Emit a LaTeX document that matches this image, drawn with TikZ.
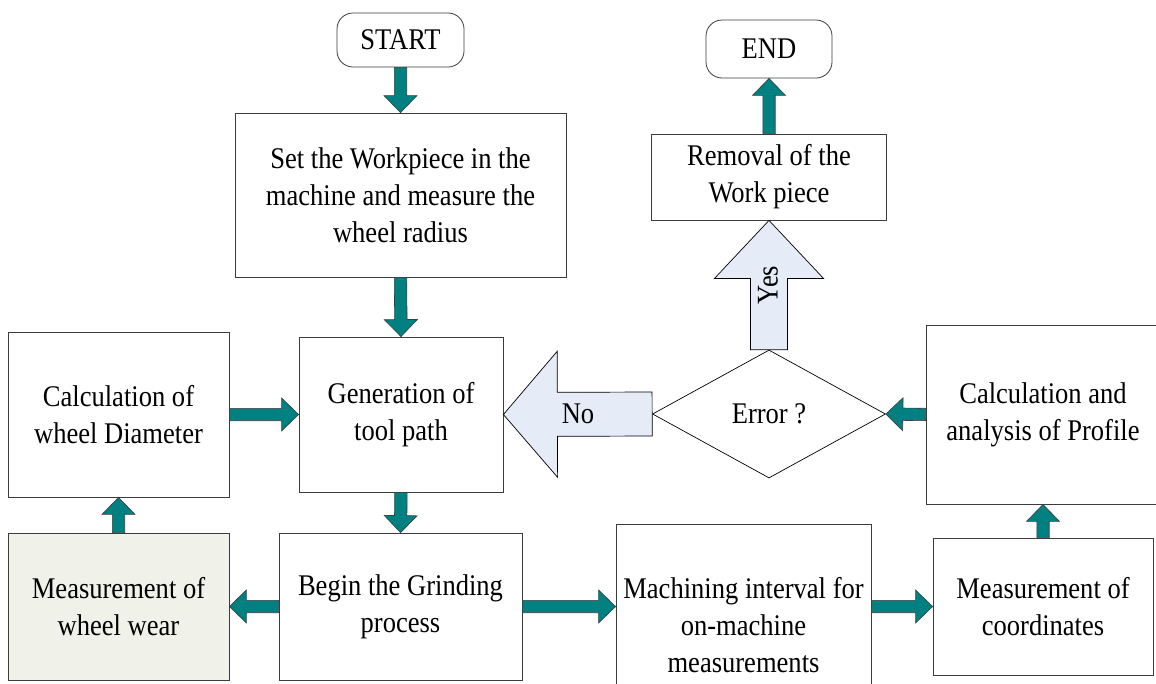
\documentclass[tikz,border=0pt]{standalone}
\usepackage{fontspec}
\setmainfont{Liberation Serif}[FakeStretch=0.885]
\usetikzlibrary{shapes.geometric,calc}
\definecolor{tealfill}{RGB}{0,128,128}
\definecolor{edgegray}{RGB}{60,60,60}
\definecolor{wearfill}{RGB}{240,241,233}
\definecolor{bluefill}{RGB}{229,235,247}
\newcommand\blk[6]{%
  \coordinate (blkC) at ($(#3)!#6!(#2)$);
  \draw[#1] ($(#2)!#4!90:(#3)$) -- ($(blkC)!#4!90:(#3)$) -- ($(blkC)!#5!90:(#3)$)
    -- (#3) -- ($(blkC)!#5!-90:(#3)$) -- ($(blkC)!#4!-90:(#3)$) -- ($(#2)!#4!-90:(#3)$) -- cycle;}
\newcommand\tarrow[2]{\blk{tealarr}{#1}{#2}{6.2pt}{16.5pt}{17pt}}
\begin{document}
\begin{tikzpicture}[x=1pt,y=-1pt,
  every node/.style={font=\fontsize{30}{37}\selectfont, align=center, inner sep=0pt},
  box/.style={draw=edgegray, line width=0.8pt, fill=white, rectangle},
  term/.style={box, rounded corners=16pt},
  tealarr/.style={fill=tealfill, draw=edgegray, line width=0.6pt, line join=miter},
  bluearr/.style={fill=bluefill, draw=black, line width=0.7pt, line join=miter}]
\useasboundingbox (0,0) rectangle (1156,683);
\clip (0,0) rectangle (1156,683);
% nodes
\node[term, minimum width=127pt, minimum height=54pt] (start) at (400.5,40) {START};
\node[term, minimum width=126pt, minimum height=58pt] (end) at (769,49) {END};
\node[box, minimum width=331pt, minimum height=164pt] (set) at (400.5,195) {Set the Workpiece in the\\machine and measure the\\wheel radius};
\node[box, minimum width=204pt, minimum height=155pt] (gen) at (401,414.5) {Generation of\\tool path};
\node[box, minimum width=221pt, minimum height=165pt] (calcd) at (118.5,414.5) {Calculation of\\wheel Diameter};
\node[box, fill=wearfill, minimum width=221pt, minimum height=147pt] (wear) at (118.5,606.5) {Measurement of\\wheel wear};
\node[box, minimum width=243pt, minimum height=147pt] (begin) at (400.5,606.5) {Begin the Grinding\\process};
\node[box, minimum width=255pt, minimum height=202pt] (mach) at (743.5,625) {Machining interval for\\on-machine\\measurements};
\node[box, minimum width=220pt, minimum height=137pt] (coord) at (1043,606.5) {Measurement of\\coordinates};
\node[box, minimum width=234pt, minimum height=179pt] (prof) at (1043,414.5) {Calculation and\\analysis of Profile};
\node[box, minimum width=235pt, minimum height=86pt] (rem) at (769,177) {Removal of the\\Work piece};
\node[diamond, draw=black, line width=0.7pt, minimum width=233pt, minimum height=128pt] (err) at (769,414) {Error ?};
% helper coordinates
\coordinate (machL) at (mach.west|-begin.east);
\coordinate (machR) at (mach.east|-coord.west);
% teal arrows
\tarrow{start.south}{set.north}
\tarrow{set.south}{gen.north}
\tarrow{calcd.east}{gen.west}
\tarrow{gen.south}{begin.north}
\tarrow{wear.north}{calcd.south}
\tarrow{begin.west}{wear.east}
\tarrow{begin.east}{machL}
\tarrow{machR}{coord.west}
\tarrow{coord.north}{prof.south}
\tarrow{prof.west}{err.east}
\tarrow{rem.north}{end.south}
% decision arrows
\blk{bluearr}{err.west}{gen.east}{22pt}{63pt}{54pt}
\blk{bluearr}{err.north}{rem.south}{18.5pt}{54.5pt}{58pt}
\node (no) at (578,414) {No};
\node[rotate=90] (yes) at (768,285) {Yes};
\end{tikzpicture}
\end{document}
